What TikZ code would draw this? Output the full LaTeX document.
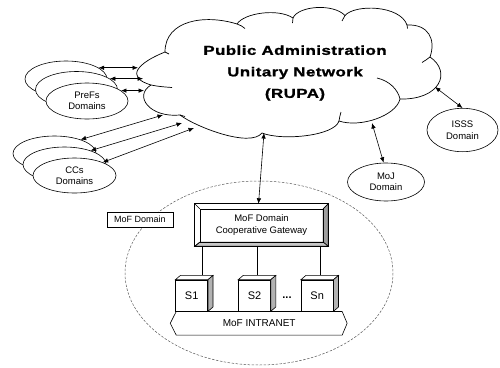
\documentclass[tikz,border=0pt]{standalone}
\usepackage{fontspec}
\setmainfont{Liberation Sans}
\newfontfamily\cloudfont{Liberation Sans}[FakeStretch=1.3,LetterSpace=3.5,FakeBold=1.2]
\usetikzlibrary{arrows.meta,shapes.geometric,calc}
\tikzset{
  ln/.style={line width=0.6pt},
  dom/.style={ellipse, draw, fill=white, line width=0.6pt, inner sep=0pt, align=center,
    font=\fontsize{9.5}{11.5}\selectfont},
  dar/.style={line width=0.6pt, {Latex[length=5.5pt,width=4.5pt]}-{Latex[length=5.5pt,width=4.5pt]}},
  bump/.style={line width=0.7pt},
  srv/.style={draw, fill=white, line width=0.6pt, minimum width=32pt, minimum height=31pt,
    inner sep=0pt, font=\fontsize{11}{13}\selectfont},
}
\begin{document}
\begin{tikzpicture}[x=1pt,y=-1pt]
\useasboundingbox (0,0) rectangle (500,367);

% ---------------- cloud (RUPA) ----------------
\draw[bump] (151,85) .. controls (124.3,77) and (138.3,62.7) .. (165,52);
\draw[bump] (151,85) .. controls (158,86.5) and (165,87) .. (172,87.5);
\draw[bump] (165,52) -- (169,54);
\draw[bump] (165,52) .. controls (165,20) and (205,14) .. (237,24);
\draw[bump] (237,24) .. controls (240,25) and (243,26.5) .. (245,28.5);
\draw[bump] (237,24) .. controls (244,13) and (278,8) .. (293,18);
\draw[bump] (293,18) -- (292.5,23);
\draw[bump] (293,18) .. controls (298,6) and (333,3) .. (345,15.5);
\draw[bump] (345,15.5) -- (342,21);
\draw[bump] (345,15.5) .. controls (355,4) and (400,5) .. (407,25);
\draw[bump] (407,25) -- (407.5,28.5);
\draw[bump] (407,25) .. controls (429,24) and (436,40) .. (430,57);
\draw[bump] (430,57) .. controls (427,59) and (425,61) .. (422,62.5);
\draw[bump] (430,57) .. controls (452,72) and (440,100) .. (400,99);
\draw[bump] (400,99) .. controls (398,90) and (390,81) .. (377,78);
\draw[bump] (400,99) .. controls (396,116) and (360,128) .. (339,121);
\draw[bump] (339,121) .. controls (339.5,118) and (340,115) .. (341,112);
\draw[bump] (339,121) .. controls (334.5,136) and (282,141) .. (262,133);
\draw[bump] (262,133) .. controls (250,148) and (196,127) .. (180,115);
\draw[bump] (180,115) -- (185,116.5);
\draw[bump] (180,115) .. controls (150,118) and (133,96) .. (151,85);

\node[font=\cloudfont\bfseries\fontsize{13}{21.5}\selectfont, align=center] (rupa) at (295,73)
  {Public Administration\\Unitary Network\\(RUPA)};

% points on the cloud border
\coordinate (c1) at (138,68);
\coordinate (c2) at (143,79);
\coordinate (c3) at (144,90);
\coordinate (c4) at (163,115);
\coordinate (c5) at (182,123);
\coordinate (c6) at (194,128);
\coordinate (c7) at (435,87);
\coordinate (c8) at (372,123);
\coordinate (c9) at (264,133);

% ---------------- outer domains ----------------
\node[dom, minimum width=82pt, minimum height=36pt] (pb) at (66,79) {};
\node[dom, minimum width=82pt, minimum height=36pt] (pm) at (76.5,89.5) {};
\node[dom, minimum width=82pt, minimum height=36pt] (pf) at (87,101) {PreFs\\Domains};

\node[dom, minimum width=83pt, minimum height=35pt] (cb) at (54.5,153.5) {};
\node[dom, minimum width=83pt, minimum height=35pt] (cm) at (64.5,164.5) {};
\node[dom, minimum width=83pt, minimum height=35pt] (cf) at (74.5,175.5) {CCs\\Domains};

\node[dom, minimum width=71pt, minimum height=43.4pt] (isss) at (462.5,130) {ISSS\\Domain};
\node[dom, minimum width=77pt, minimum height=38pt] (moj) at (386,182) {MoJ\\Domain};

% ---------------- MoF domain ----------------
\draw[line width=0.5pt, gray!70!black, dash pattern=on 2.5pt off 1.5pt]
  (259,273) ellipse [x radius=134, y radius=92];

\node[draw, fill=white, ln, minimum width=66pt, minimum height=15pt, inner sep=0pt,
  font=\fontsize{9}{11}\selectfont] (mofd) at (140,219.5) {MoF Domain};

\node[minimum width=133pt, minimum height=42pt, inner sep=0pt, align=center,
  font=\fontsize{9.5}{12}\selectfont] (gw) at (261.5,225) {MoF Domain\\Cooperative Gateway};
\coordinate (gNW) at ($(gw.north west)+(5,5)$);
\coordinate (gNE) at ($(gw.north east)+(-5,5)$);
\coordinate (gSE) at ($(gw.south east)+(-5,-4)$);
\coordinate (gSW) at ($(gw.south west)+(5,-4)$);
\draw[ln, fill=gray!75] (gw.north east) -- (gw.south east) -- (gSE) -- (gNE) -- cycle;
\draw[ln, fill=gray!45] (gw.south west) -- (gw.south east) -- (gSE) -- (gSW) -- cycle;
\draw[ln] (gw.north west) -- (gNW) (gw.north east) -- (gNE) (gw.south west) -- (gSW);
\draw[ln] (gNW) rectangle (gSE);
\draw[line width=0.9pt] (gw.north west) rectangle (gw.south east);

% intranet
\node[minimum width=165.5pt, minimum height=23.3pt, inner sep=0pt,
  font=\fontsize{10}{12}\selectfont] (net) at (259.2,323.3) {MoF INTRANET};
\draw[ln] (net.north west) -- (net.north east) -- ($(net.east)+(5,0)$) -- (net.south east)
  -- (net.south west) -- ($(net.west)+(-6,0)$) -- cycle;

% servers
\node[srv] (s1) at (191.7,295.5) {S1};
\node[srv] (s2) at (254.5,295.5) {S2};
\node[srv] (sn) at (317.2,295.5) {Sn};
\foreach \s in {s1,s2,sn}{
  \draw[ln, fill=white] (\s.north west) -- ++(5,-4.3) -- ($(\s.north east)+(5,-4.3)$)
    -- (\s.north east) -- cycle;
  \draw[ln, fill=gray!60] (\s.north east) -- ++(5,-4.3) -- ($(\s.south east)+(5,-4.3)$)
    -- (\s.south east) -- cycle;
}
\node[font=\fontsize{11}{13}\selectfont\bfseries] (dots) at (287,298) {...};

\coordinate (t1) at ($(s1.north)+(11,-4.3)$);
\coordinate (t2) at ($(s2.north)+(3.2,-4.3)$);
\coordinate (t3) at ($(sn.north)+(2.8,-4.3)$);
\draw[ln] (t1) -- (t1 |- gw.south);
\draw[ln] (t2) -- (t2 |- gw.south);
\draw[ln] (t3) -- (t3 |- gw.south);

% ---------------- connectors ----------------
\draw[dar] (pb.19) -- (pb.19 -| c1);
\draw[dar] (pm.18) -- (pm.18 -| c2);
\draw[dar] (pf.17) -- (pf.17 -| c3);
\draw[dar] (cb.28) -- (c4);
\draw[dar] (cm.28) -- (c5);
\draw[dar] (cf.25) -- (c6);
\draw[dar] (c7) -- (isss.north);
\draw[dar] (c8) -- (moj.97);
\draw[dar] (c9) -- ([xshift=-3pt]gw.north);
\end{tikzpicture}
\end{document}
